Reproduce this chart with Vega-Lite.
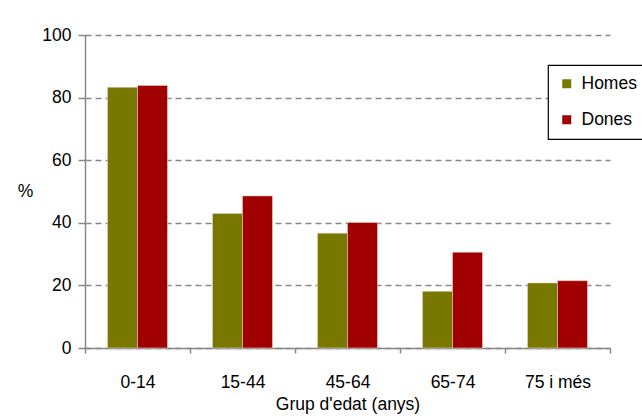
{
  "$schema": "https://vega.github.io/schema/vega-lite/v6.json",
  "autosize": {"type": "none"},
  "padding": {"left": 85, "top": 35, "right": 32, "bottom": 71},
  "width": 525,
  "height": 313,
  "background": "white",
  "data": {
    "values": [
      {"grup": "0-14", "sexe": "Homes", "pct": 83.3},
      {"grup": "0-14", "sexe": "Dones", "pct": 83.9},
      {"grup": "15-44", "sexe": "Homes", "pct": 43.0},
      {"grup": "15-44", "sexe": "Dones", "pct": 48.6},
      {"grup": "45-64", "sexe": "Homes", "pct": 36.7},
      {"grup": "45-64", "sexe": "Dones", "pct": 40.1},
      {"grup": "65-74", "sexe": "Homes", "pct": 18.1},
      {"grup": "65-74", "sexe": "Dones", "pct": 30.6},
      {"grup": "75 i més", "sexe": "Homes", "pct": 20.8},
      {"grup": "75 i més", "sexe": "Dones", "pct": 21.5}
    ]
  },
  "mark": {"type": "bar", "stroke": "#e8d0c8", "strokeWidth": 0.6},
  "encoding": {
    "x": {
      "field": "grup",
      "type": "nominal",
      "sort": ["0-14", "15-44", "45-64", "65-74", "75 i més"],
      "scale": {"paddingInner": 0, "paddingOuter": 0},
      "axis": {
        "title": "Grup d'edat (anys)",
        "labelAngle": 0,
        "tickBand": "extent",
        "domainColor": "#888888",
        "domainWidth": 1.5,
        "tickColor": "#888888",
        "tickWidth": 1.5,
        "tickSize": 5,
        "labelPadding": 20,
        "labelFont": "Liberation Sans",
        "labelFontSize": 17.5,
        "labelColor": "#000000",
        "titleFont": "Liberation Sans",
        "titleFontSize": 17.5,
        "titleFontWeight": "normal",
        "titleColor": "#000000",
        "titlePadding": 5,
        "grid": false
      }
    },
    "xOffset": {
      "field": "sexe",
      "type": "nominal",
      "sort": ["Homes", "Dones"],
      "scale": {"paddingInner": 0, "paddingOuter": 0.75}
    },
    "y": {
      "field": "pct",
      "type": "quantitative",
      "scale": {"domain": [0, 100], "nice": false},
      "axis": {
        "title": "%",
        "titleAngle": 0,
        "titleX": -60,
        "titleY": 165,
        "titleAlign": "center",
        "titleFont": "Liberation Sans",
        "titleFontSize": 17.5,
        "titleFontWeight": "normal",
        "titleColor": "#000000",
        "values": [0, 20, 40, 60, 80, 100],
        "grid": true,
        "gridColor": "#888888",
        "gridDash": [6, 4],
        "gridWidth": 1.5,
        "domainColor": "#888888",
        "domainWidth": 1.5,
        "tickColor": "#888888",
        "tickWidth": 1.5,
        "tickSize": 7,
        "labelPadding": 7,
        "labelFont": "Liberation Sans",
        "labelFontSize": 17.5,
        "labelColor": "#000000"
      }
    },
    "color": {
      "field": "sexe",
      "type": "nominal",
      "sort": ["Homes", "Dones"],
      "scale": {"domain": ["Homes", "Dones"], "range": ["#787800", "#a00000"]},
      "legend": {
        "title": null,
        "orient": "none",
        "legendX": 463,
        "legendY": 30,
        "direction": "vertical",
        "symbolType": "square",
        "symbolSize": 81,
        "symbolStrokeWidth": 0,
        "labelFont": "Liberation Sans",
        "labelFontSize": 17.5,
        "labelColor": "#000000",
        "rowPadding": 17,
        "padding": 10,
        "strokeColor": "#000000",
        "fillColor": "white",
        "labelOffset": 6
      }
    }
  },
  "config": {
    "view": {"stroke": null},
    "legend": {"strokeWidth": 1.2}
  }
}
